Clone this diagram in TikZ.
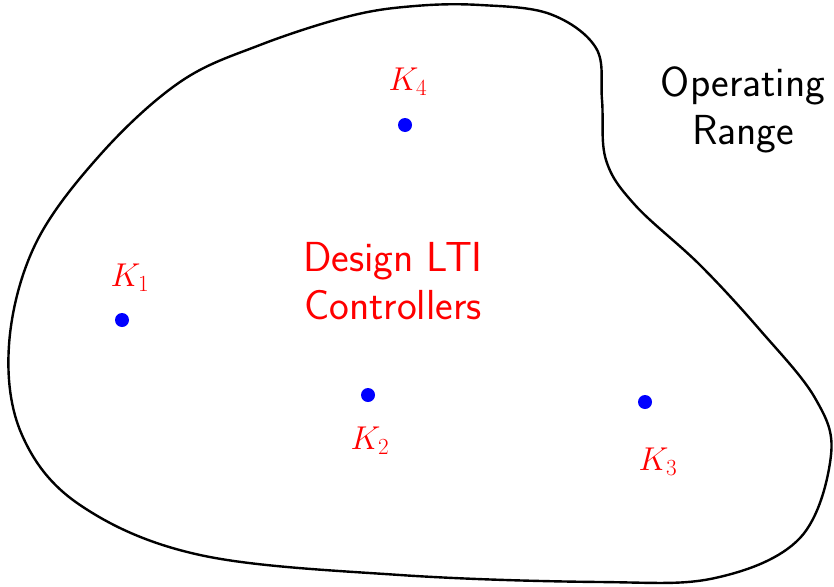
\documentclass[tikz,border=0pt]{standalone}
\usepackage{fix-cm}
\begin{document}
\begin{tikzpicture}[x=1pt,y=-1pt,
  dot/.style={circle,fill=blue,inner sep=0pt,minimum size=14pt},
  klab/.style={text=red,font=\fontsize{33}{38}\selectfont},
  big/.style={font=\sffamily\fontsize{42}{48}\selectfont,align=center}]
\useasboundingbox (0,0) rectangle (834,586);
\draw[line width=2.4pt] plot[smooth cycle,tension=0.6] coordinates {
 (415,6) (350,16) (260,45) (180,82) (100,155) (35,245) (9,345) (22,435) (80,505)
 (200,555) (400,575) (600,582) (715,578) (800,538) (831,455) (815,398) (760,330)
 (700,265) (635,205) (606,160) (602,100) (596,48) (550,14) (480,5)};
\node[dot] (k1) at (122,320) {};
\node[dot] (k2) at (368,395) {};
\node[dot] (k3) at (645,402) {};
\node[dot] (k4) at (405,125) {};
\node[klab] (l1) at (130,278) {$K_1$};
\node[klab] (l2) at (370,441) {$K_2$};
\node[klab] (l3) at (658,462) {$K_3$};
\node[klab] (l4) at (408,82) {$K_4$};
\node[big,text=red] (d) at (393,281) {Design LTI\\Controllers};
\node[big] (o) at (743,110) {Operating\\Range};
\end{tikzpicture}
\end{document}
